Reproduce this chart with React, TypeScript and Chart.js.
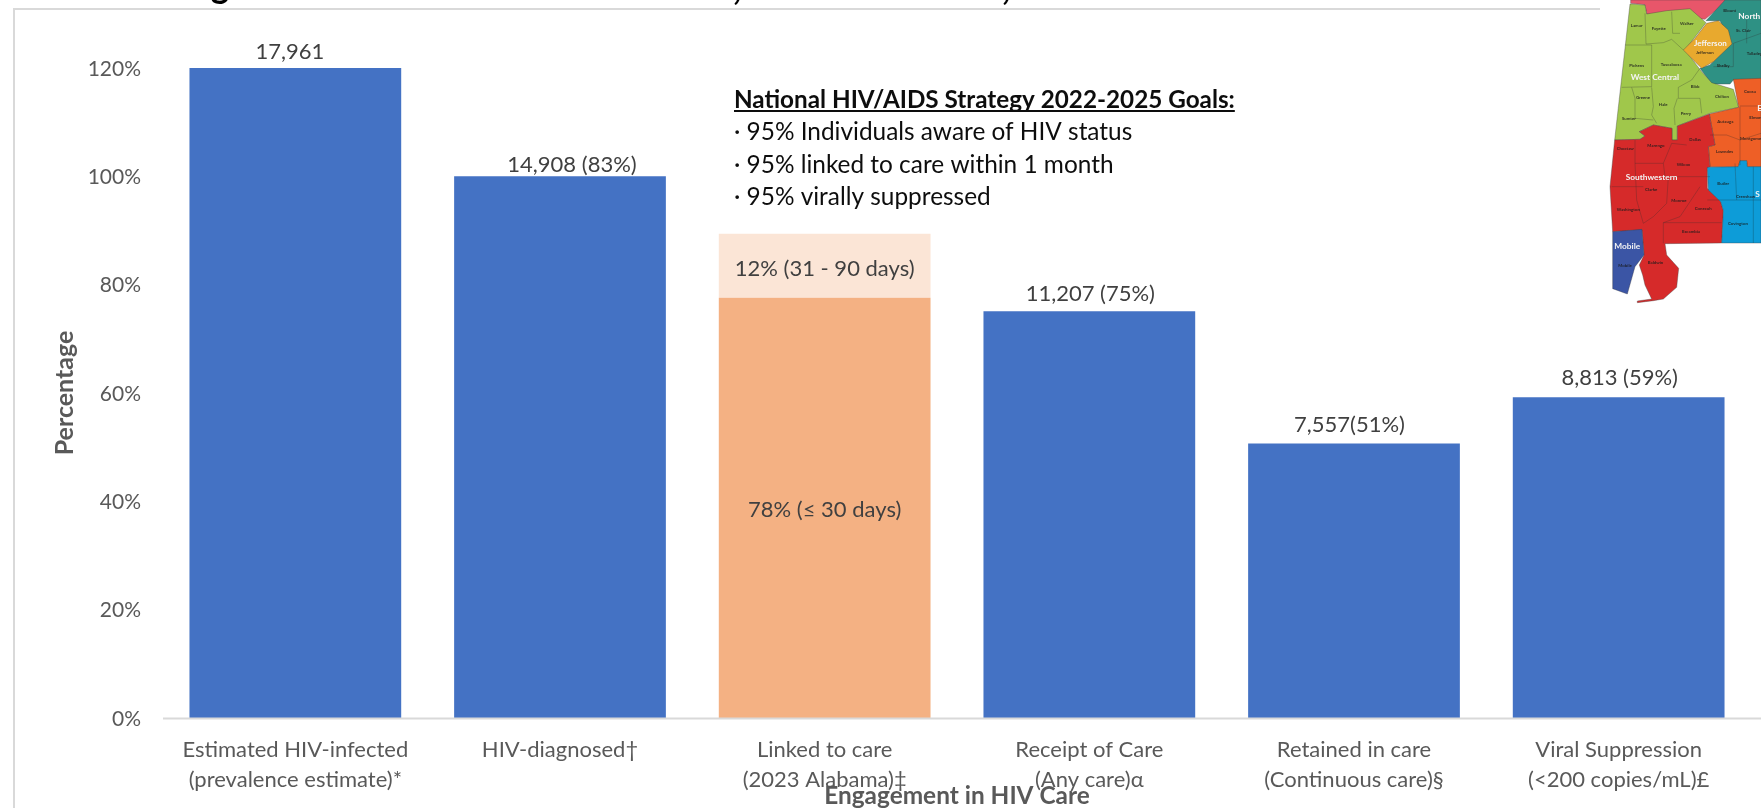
import React, { useEffect, useRef } from "react";
import { Chart, registerables } from "chart.js";

Chart.register(...registerables);

const FONT = "Lato, Carlito, 'Open Sans', sans-serif";
const categories: string[][] = [
  ["Estimated HIV-infected", "(prevalence estimate)*"],
  ["HIV-diagnosed†"],
  ["Linked to care", "(2023 Alabama)‡"],
  ["Receipt of Care", "(Any care)α"],
  ["Retained in care", "(Continuous care)§"],
  ["Viral Suppression", "(<200 copies/mL)£"],
];
const engagement = [120, 100, null, 75.1, 50.7, 59.2];
const linked30 = [null, null, 77.6, null, null, null];
const linked90 = [null, null, 11.8, null, null, null];
const engagementLabels = ["17,961", "14,908 (83%)", "", "11,207 (75%)", "7,557(51%)", "8,813 (59%)"];
const linked30Label = "78% (≤ 30 days)";
const linked90Label = "12% (31 - 90 days)";
const goalsTitle = "National HIV/AIDS Strategy 2022-2025 Goals:";
const goals = ["· 95% Individuals aware of HIV status", "· 95% linked to care within 1 month", "· 95% virally suppressed"];

const labelGap = [16, 11, 0, 17, 18, 19];
const labelShift = [-5.5, 12, 0, 1, -4.5, 1];

const annotate = {
  id: "annotate",
  beforeDraw(chart: any) {
    const c = chart.ctx;
    c.save();
    c.strokeStyle = "#d9d9d9";
    c.lineWidth = 2;
    c.beginPath();
    c.moveTo(14, 808);
    c.lineTo(14, 9);
    c.lineTo(1603, 9);
    c.stroke();
    c.fillStyle = "#000";
    c.font = `900 34px ${FONT}`;
    c.textAlign = "left";
    c.textBaseline = "alphabetic";
    c.fillText("g", 211, -2);
    c.fillText(",", 733, 0);
    c.fillText(",", 1002, 0);
    c.restore();
  },
  afterDraw(chart: any) {
    const c = chart.ctx;
    const x = chart.scales.x;
    const y = chart.scales.y;
    c.save();
    c.strokeStyle = "#d9d9d9";
    c.lineWidth = 2;
    c.beginPath();
    c.moveTo(x.left, y.bottom + 0.5);
    c.lineTo(1761, y.bottom + 0.5);
    c.stroke();

    c.font = `22px ${FONT}`;
    c.fillStyle = "#404040";
    c.textAlign = "center";
    c.textBaseline = "middle";
    engagementLabels.forEach((t, i) => {
      const v = engagement[i];
      if (v == null) return;
      c.fillText(t, x.getPixelForValue(i) + labelShift[i], y.getPixelForValue(v) - labelGap[i]);
    });
    const xc = x.getPixelForValue(2);
    c.fillText(linked30Label, xc, y.getPixelForValue((linked30[2] as number) / 2) + 2);
    c.fillText(linked90Label, xc, y.getPixelForValue((linked30[2] as number) + (linked90[2] as number) / 2) + 3);

    c.textAlign = "left";
    c.fillStyle = "#0d0d0d";
    c.font = `700 24.25px ${FONT}`;
    c.fillText(goalsTitle, 734, 100);
    const w = c.measureText(goalsTitle).width;
    c.fillRect(734, 110, w, 2);
    c.font = `24.4px ${FONT}`;
    goals.forEach((g, i) => c.fillText(g, 734, 132 + i * 32.8));
    c.restore();
  },
};

const regions: { fill: string; pts: string }[] = [
  { fill: "#e8566b", pts: "92,0 385,0 315,58 140,42 135,14 92,10" },
  { fill: "#2f9184", pts: "375,0 483,0 483,240 400,240 390,252 335,252 300,205 330,195 395,130 360,62 318,62" },
  { fill: "#a0c74c", pts: "90,12 135,15 140,42 200,32 270,26 318,68 255,150 305,215 335,248 400,268 416,322 330,340 232,378 232,420 216,420 216,385 160,375 118,395 135,408 120,418 44,420" },
  { fill: "#e8a92f", pts: "250,150 285,115 320,70 355,62 385,90 396,132 340,185 305,205 285,185" },
  { fill: "#ee5f26", pts: "400,238 483,235 483,500 442,500 440,482 420,482 415,500 330,500 325,440 345,435 328,342 416,322" },
  { fill: "#d62c2c", pts: "44,420 120,418 135,408 118,395 160,375 216,385 216,420 232,420 232,378 328,342 345,435 325,440 330,500 322,505 322,565 362,605 370,632 365,729 195,731 200,765 236,805 230,862 190,897 160,902 112,908 112,903 155,897 135,855 128,825 118,795 132,765 126,690 38,695 30,560" },
  { fill: "#3a54a5", pts: "38,695 126,688 132,765 105,800 82,882 38,866" },
  { fill: "#0b9cd8", pts: "322,502 415,500 420,482 440,482 442,500 483,500 483,729 365,729 370,632 362,605 325,570" },
];
const countyLines: string[] = [
  "75,135 155,135 155,260 65,262", "135,40 138,132 190,128 215,118 250,150", "215,35 218,100 240,100",
  "95,262 105,295 105,355 160,360", "155,262 160,320 155,345 170,370", "235,295 300,295 305,340",
  "232,295 222,325 225,375", "300,205 275,240 235,262 235,295",
  "105,420 105,490 190,490 215,430 260,435", "35,560 130,560", "105,490 110,600 130,670",
  "190,490 195,530 330,530", "205,530 200,610 160,650 130,670", "300,560 240,650 190,668 190,730", "190,668 365,668",
  "330,405 380,405 420,420 483,400", "420,320 420,495", "420,318 483,318",
  "322,600 483,600", "460,500 460,729", "405,490 410,600",
  "400,130 483,100", "440,60 440,130", "400,130 400,200 340,200",
];
const regionNames: [string, number, number, number][] = [
  ["North", 415, 58, 25],
  ["Jefferson", 282, 138, 24],
  ["West Central", 92, 240, 25],
  ["E", 472, 334, 25],
  ["Southwestern", 77, 541, 25],
  ["S", 466, 592, 25],
  ["Mobile", 43, 748, 25],
];
const counties: [string, number, number][] = [
  ["Lamar", 92, 80], ["Fayette", 155, 90], ["Walker", 240, 74], ["Blount", 370, 37], ["St. Clair", 408, 95],
  ["Jefferson", 288, 162], ["Shelby", 350, 202], ["Talladega", 440, 166], ["Pickens", 88, 200], ["Tuscaloosa", 182, 198],
  ["Greene", 108, 297], ["Hale", 176, 319], ["Bibb", 272, 263], ["Chilton", 345, 295], ["Perry", 242, 344],
  ["Sumter", 66, 360], ["Coosa", 432, 278], ["Autauga", 352, 369], ["Elmore", 448, 356], ["Montgomery", 420, 419],
  ["Lowndes", 348, 460], ["Dallas", 268, 423], ["Choctaw", 50, 450], ["Marengo", 142, 440], ["Wilcox", 230, 498],
  ["Clarke", 135, 572], ["Monroe", 214, 606], ["Conecuh", 284, 631], ["Washington", 50, 634], ["Butler", 352, 555],
  ["Crenshaw", 408, 593], ["Covington", 384, 676], ["Escambia", 246, 700], ["Mobile", 55, 801], ["Baldwin", 143, 793],
];

function AlabamaMap() {
  return (
    <svg
      width={161}
      height={310}
      viewBox="0 0 483 930"
      style={{ position: "absolute", left: 1600, top: 0, background: "#fff" }}
    >
      <defs>
        <filter id="soft" x="-5%" y="-5%" width="110%" height="110%">
          <feGaussianBlur stdDeviation="1.6" />
        </filter>
      </defs>
      <g filter="url(#soft)">
        {regions.map((r, i) => (
          <polygon key={i} points={r.pts} fill={r.fill} stroke="#3d3d3d" strokeOpacity={0.55} strokeWidth={2} />
        ))}
        {countyLines.map((p, i) => (
          <polyline key={i} points={p} fill="none" stroke="#2a2a2a" strokeOpacity={0.4} strokeWidth={2} />
        ))}
        {counties.map(([t, x, y], i) => (
          <text key={i} x={x} y={y} fontFamily={FONT} fontWeight={700} fontSize={13} fill="#1b1b1b" opacity={0.85}>{t}</text>
        ))}
        {regionNames.map(([t, x, y, s], i) => (
          <text key={i} x={x} y={y} fontFamily={FONT} fontWeight={700} fontSize={s} fill="#f4f4f4">{t}</text>
        ))}
      </g>
    </svg>
  );
}

export default function App() {
  const ref = useRef<HTMLCanvasElement | null>(null);
  useEffect(() => {
    const chart = new Chart(ref.current as HTMLCanvasElement, {
      type: "bar",
      data: {
        labels: categories as any,
        datasets: [
          { label: "Engagement", data: engagement, backgroundColor: "#4472c4" },
          { label: "Linked ≤ 30 days", data: linked30, backgroundColor: "#f4b183" },
          { label: "Linked 31 - 90 days", data: linked90, backgroundColor: "#fbe5d6" },
        ],
      },
      options: {
        responsive: false,
        animation: false,
        layout: { padding: { top: 68, right: 10, left: 0, bottom: 0 } },
        plugins: { legend: { display: false }, tooltip: { enabled: false } },
        datasets: { bar: { barPercentage: 0.8, categoryPercentage: 1 } },
        scales: {
          x: {
            stacked: true,
            grid: { display: false },
            border: { display: false },
            afterFit: (s: any) => { s.height = 90; },
            ticks: {
              autoSkip: false,
              maxRotation: 0,
              minRotation: 0,
              padding: 9,
              color: "#595959",
              font: { family: FONT, size: 22, lineHeight: 1.364 },
            },
            title: {
              display: true,
              text: "Engagement in HIV Care",
              color: "#595959",
              padding: { top: 0, bottom: -3 },
              font: { family: FONT, size: 24.4, weight: "bold", lineHeight: 1.2 },
            },
          },
          y: {
            stacked: true,
            min: 0,
            max: 120,
            grid: { display: false, drawTicks: false },
            border: { display: false },
            afterFit: (s: any) => { s.width = 163; },
            ticks: {
              stepSize: 20,
              padding: 22,
              labelOffset: 1,
              color: "#595959",
              font: { family: FONT, size: 21 },
              callback: (v: any) => `${v}%`,
            },
            title: {
              display: true,
              text: "Percentage",
              color: "#595959",
              padding: { top: 50, bottom: 0 },
              font: { family: FONT, size: 25, weight: "bold", lineHeight: 1.2 },
            },
          },
        },
      } as any,
      plugins: [annotate],
    });
    return () => chart.destroy();
  }, []);
  return (
    <div style={{ position: "fixed", left: 0, top: 0, width: 1761, height: 808, overflow: "hidden", background: "#fff" }}>
      <canvas ref={ref} width={1761} height={808} style={{ display: "block" }} />
      <AlabamaMap />
    </div>
  );
}
